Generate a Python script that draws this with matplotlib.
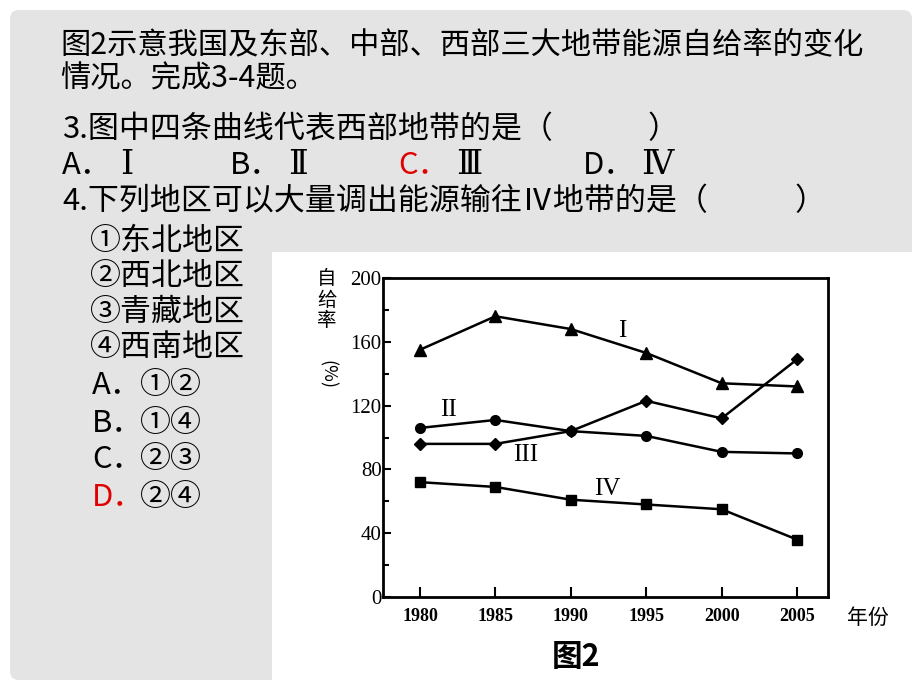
import numpy as np
import matplotlib.pyplot as plt
from matplotlib.patches import FancyBboxPatch, Rectangle

plt.rcParams['font.family'] = ['Noto Sans CJK SC', 'DejaVu Sans']

# data (自给率, %)
years = [1980, 1985, 1990, 1995, 2000, 2005]
zone_I = [155, 176, 168, 153, 134, 132]
zone_II = [106, 111, 104, 101, 91, 90]
zone_III = [96, 96, 104, 123, 112, 149]
zone_IV = [72, 69, 61, 58, 55, 36]
series_names = ['I', 'II', 'III', 'IV']
y_ticks = [0, 40, 80, 120, 160, 200]

title_lines = ['图2示意我国及东部、中部、西部三大地带能源自给率的变化',
               '情况。完成3-4题。']
q3 = '3.图中四条曲线代表西部地带的是（'
q3_letters = ['A．', 'B．', 'C．', 'D．']
q3_numerals = ['Ⅰ', 'Ⅱ', 'Ⅲ', 'Ⅳ']
q4 = '4.下列地区可以大量调出能源输往Ⅳ地带的是（'
regions = ['①东北地区', '②西北地区', '③青藏地区', '④西南地区']
q4_opts = ['A．①②', 'B．①④', 'C．②③', 'D．②④']

W, H = 920, 690
fig = plt.figure(figsize=(W / 100, H / 100), dpi=100)
fig.patch.set_facecolor('white')

# slide layer in pixel coords
bg = fig.add_axes([0, 0, 1, 1])
bg.set_xlim(0, W)
bg.set_ylim(H, 0)
bg.axis('off')
bg.add_patch(FancyBboxPatch((10, 10), 902, 670, boxstyle='round,pad=0,rounding_size=9',
                            facecolor='#e4e4e4', edgecolor='none'))
bg.add_patch(Rectangle((272, 252), W - 272, H - 252, facecolor='white', edgecolor='none'))

fs_big = 21.8
fs = 22.3
red = '#e00000'
serif = ['Liberation Serif', 'DejaVu Serif']

bg.text(60, 45, title_lines[0], fontsize=fs_big, va='center', ha='left')
bg.text(60, 79, title_lines[1], fontsize=fs_big, va='center', ha='left')

bg.text(62, 130, q3, fontsize=fs, va='center', ha='left')
bg.text(648, 130, '）', fontsize=fs, va='center', ha='left')
for x, letter, num in zip([62, 230, 398, 583], q3_letters, q3_numerals):
    bg.text(x, 166, letter, fontsize=fs, va='center', ha='left',
            color=red if letter.startswith('C') else 'black')
    bg.text(x + 58, 166, num, family=serif, fontsize=24, va='center', ha='left')

bg.text(62, 202, q4, fontsize=fs, va='center', ha='left')
bg.text(795, 202, '）', fontsize=fs, va='center', ha='left')
for i, t in enumerate(regions):
    bg.text(90, 241 + i * 35.5, t, fontsize=fs, va='center', ha='left')
for i, t in enumerate(q4_opts):
    y = 386 + i * 37
    bg.text(92, y, t[:2], fontsize=fs, va='center', ha='left',
            color=red if t.startswith('D') else 'black')
    bg.text(92 + 48, y, t[2:], fontsize=fs, va='center', ha='left')

# chart axes
left, right, top, bottom = 383, 828, 278, 597
ax = fig.add_axes([left / W, 1 - bottom / H, (right - left) / W, (bottom - top) / H])
ax.set_facecolor('white')
ax.set_xlim(1977.55, 2007.05)
ax.set_ylim(0, 200)

lw = 1.8
ax.plot(years, zone_I, color='black', lw=lw, marker='^', ms=8)
ax.plot(years, zone_II, color='black', lw=lw, marker='o', ms=7)
ax.plot(years, zone_III, color='black', lw=lw, marker='D', ms=6)
ax.plot(years, zone_IV, color='black', lw=lw, marker='s', ms=7)

label_pos = [(1993.4, 167), (1981.9, 117), (1987.0, 89), (1992.4, 68)]
for name, (x, y) in zip(series_names, label_pos):
    ax.text(x, y, name, family=serif, fontsize=18, ha='center', va='center')

ax.set_xticks(years)
ax.set_xticklabels([str(y) for y in years], family=serif, fontsize=13, fontweight='bold')
ax.set_yticks(y_ticks)
ax.set_yticks([20, 60, 100, 140, 180], minor=True)
ax.set_yticklabels([str(v) for v in y_ticks], family=serif, fontsize=15)
ax.tick_params(axis='both', which='both', direction='in', width=1.5, color='black')
ax.tick_params(axis='x', length=7, pad=8)
ax.tick_params(axis='y', which='major', length=6, pad=1)
ax.tick_params(axis='y', which='minor', length=4)
for s in ax.spines.values():
    s.set_linewidth(2)

bg.text(847, 618, '年份', fontsize=15, va='center', ha='left')
bg.text(327, 300, '自\n给\n率', fontsize=14, va='center', ha='center', linespacing=1.0)
bg.text(327, 375, '(%)', fontsize=13, va='center', ha='center', rotation=270)
bg.text(576, 657, '图2', fontsize=22, fontweight='bold', va='center', ha='center')

fig.savefig('out.png', dpi=100)
